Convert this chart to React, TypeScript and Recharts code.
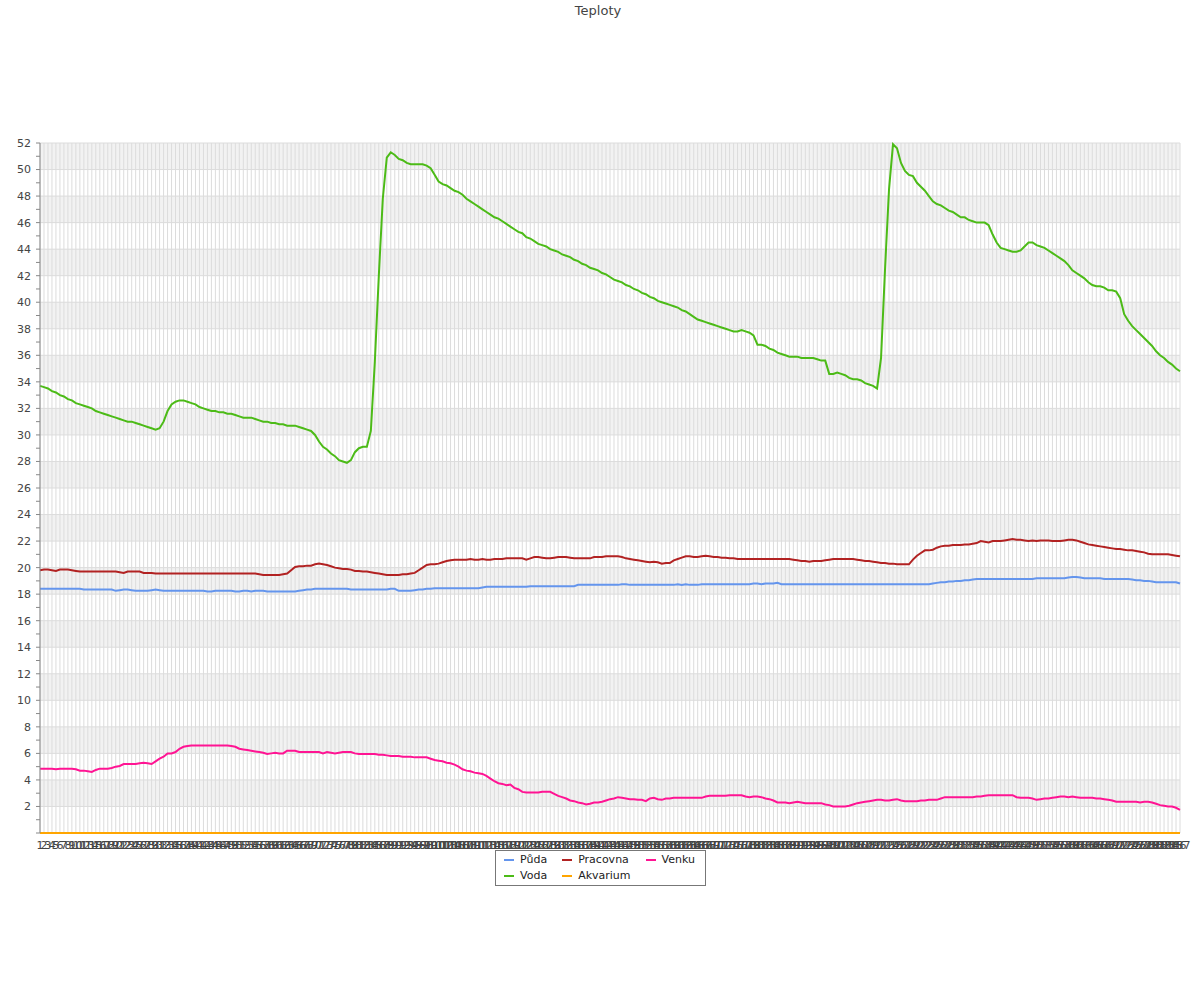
import { CartesianGrid, Legend, Line, LineChart, XAxis, YAxis } from "recharts";

// values, one per sample (287 samples)
const puda = [
  18.4, 18.4, 18.4, 18.4, 18.4, 18.4, 18.4, 18.4, 18.4, 18.4,
  18.4, 18.35, 18.35, 18.35, 18.35, 18.35, 18.35, 18.35, 18.35, 18.25,
  18.3, 18.35, 18.35, 18.3, 18.25, 18.25, 18.25, 18.25, 18.3, 18.35,
  18.3, 18.25, 18.25, 18.25, 18.25, 18.25, 18.25, 18.25, 18.25, 18.25,
  18.25, 18.25, 18.2, 18.2, 18.25, 18.25, 18.25, 18.25, 18.25, 18.2,
  18.2, 18.25, 18.25, 18.2, 18.25, 18.25, 18.25, 18.2, 18.2, 18.2,
  18.2, 18.2, 18.2, 18.2, 18.2, 18.25, 18.3, 18.35, 18.35, 18.4,
  18.4, 18.4, 18.4, 18.4, 18.4, 18.4, 18.4, 18.4, 18.35, 18.35,
  18.35, 18.35, 18.35, 18.35, 18.35, 18.35, 18.35, 18.35, 18.4, 18.4,
  18.25, 18.25, 18.25, 18.25, 18.3, 18.35, 18.35, 18.4, 18.4, 18.45,
  18.45, 18.45, 18.45, 18.45, 18.45, 18.45, 18.45, 18.45, 18.45, 18.45,
  18.45, 18.5, 18.55, 18.55, 18.55, 18.55, 18.55, 18.55, 18.55, 18.55,
  18.55, 18.55, 18.55, 18.6, 18.6, 18.6, 18.6, 18.6, 18.6, 18.6,
  18.6, 18.6, 18.6, 18.6, 18.6, 18.7, 18.7, 18.7, 18.7, 18.7,
  18.7, 18.7, 18.7, 18.7, 18.7, 18.7, 18.75, 18.75, 18.7, 18.7,
  18.7, 18.7, 18.7, 18.7, 18.7, 18.7, 18.7, 18.7, 18.7, 18.7,
  18.75, 18.7, 18.75, 18.7, 18.7, 18.7, 18.75, 18.75, 18.75, 18.75,
  18.75, 18.75, 18.75, 18.75, 18.75, 18.75, 18.75, 18.75, 18.75, 18.8,
  18.8, 18.75, 18.8, 18.8, 18.8, 18.85, 18.75, 18.75, 18.75, 18.75,
  18.75, 18.75, 18.75, 18.75, 18.75, 18.75, 18.75, 18.75, 18.75, 18.75,
  18.75, 18.75, 18.75, 18.75, 18.75, 18.75, 18.75, 18.75, 18.75, 18.75,
  18.75, 18.75, 18.75, 18.75, 18.75, 18.75, 18.75, 18.75, 18.75, 18.75,
  18.75, 18.75, 18.75, 18.75, 18.8, 18.85, 18.9, 18.9, 18.95, 18.95,
  19.0, 19.0, 19.05, 19.05, 19.1, 19.15, 19.15, 19.15, 19.15, 19.15,
  19.15, 19.15, 19.15, 19.15, 19.15, 19.15, 19.15, 19.15, 19.15, 19.15,
  19.2, 19.2, 19.2, 19.2, 19.2, 19.2, 19.2, 19.2, 19.25, 19.3,
  19.3, 19.25, 19.2, 19.2, 19.2, 19.2, 19.2, 19.15, 19.15, 19.15,
  19.15, 19.15, 19.15, 19.15, 19.1, 19.05, 19.05, 19.0, 19.0, 18.95,
  18.9, 18.9, 18.9, 18.9, 18.9, 18.9, 18.8,
];

const voda = [
  33.7, 33.6, 33.5, 33.3, 33.2, 33.0, 32.9, 32.7, 32.6, 32.4,
  32.3, 32.2, 32.1, 32.0, 31.8, 31.7, 31.6, 31.5, 31.4, 31.3,
  31.2, 31.1, 31.0, 31.0, 30.9, 30.8, 30.7, 30.6, 30.5, 30.4,
  30.5, 31.0, 31.8, 32.3, 32.5, 32.6, 32.6, 32.5, 32.4, 32.3,
  32.1, 32.0, 31.9, 31.8, 31.8, 31.7, 31.7, 31.6, 31.6, 31.5,
  31.4, 31.3, 31.3, 31.3, 31.2, 31.1, 31.0, 31.0, 30.9, 30.9,
  30.8, 30.8, 30.7, 30.7, 30.7, 30.6, 30.5, 30.4, 30.3, 30.0,
  29.5, 29.1, 28.9, 28.6, 28.4, 28.1, 28.0, 27.9, 28.1, 28.7,
  29.0, 29.1, 29.1, 30.3, 35.5, 42.0, 47.8, 50.9, 51.3, 51.1,
  50.8, 50.7, 50.5, 50.4, 50.4, 50.4, 50.4, 50.3, 50.1, 49.6,
  49.1, 48.9, 48.8, 48.6, 48.4, 48.3, 48.1, 47.8, 47.6, 47.4,
  47.2, 47.0, 46.8, 46.6, 46.4, 46.3, 46.1, 45.9, 45.7, 45.5,
  45.3, 45.2, 44.9, 44.8, 44.6, 44.4, 44.3, 44.2, 44.0, 43.9,
  43.8, 43.6, 43.5, 43.4, 43.2, 43.1, 42.9, 42.8, 42.6, 42.5,
  42.4, 42.2, 42.1, 41.9, 41.7, 41.6, 41.5, 41.3, 41.2, 41.0,
  40.9, 40.7, 40.6, 40.4, 40.3, 40.1, 40.0, 39.9, 39.8, 39.7,
  39.6, 39.4, 39.3, 39.1, 38.9, 38.7, 38.6, 38.5, 38.4, 38.3,
  38.2, 38.1, 38.0, 37.9, 37.8, 37.8, 37.9, 37.8, 37.7, 37.5,
  36.8, 36.8, 36.7, 36.5, 36.4, 36.2, 36.1, 36.0, 35.9, 35.9,
  35.9, 35.8, 35.8, 35.8, 35.8, 35.7, 35.6, 35.6, 34.6, 34.6,
  34.7, 34.6, 34.5, 34.3, 34.2, 34.2, 34.1, 33.9, 33.8, 33.7,
  33.5, 35.8, 42.5, 48.5, 51.9, 51.6, 50.5, 49.9, 49.6, 49.5,
  49.0, 48.7, 48.4, 48.0, 47.6, 47.4, 47.3, 47.1, 46.9, 46.8,
  46.6, 46.4, 46.4, 46.2, 46.1, 46.0, 46.0, 46.0, 45.8, 45.1,
  44.5, 44.1, 44.0, 43.9, 43.8, 43.8, 43.9, 44.2, 44.5, 44.5,
  44.3, 44.2, 44.1, 43.9, 43.7, 43.5, 43.3, 43.1, 42.8, 42.4,
  42.2, 42.0, 41.8, 41.5, 41.3, 41.2, 41.2, 41.1, 40.9, 40.9,
  40.8, 40.3, 39.1, 38.6, 38.2, 37.9, 37.6, 37.3, 37.0, 36.7,
  36.3, 36.0, 35.8, 35.5, 35.3, 35.0, 34.8,
];

const pracovna = [
  19.8, 19.85, 19.85, 19.8, 19.75, 19.85, 19.85, 19.85, 19.8, 19.75,
  19.7, 19.7, 19.7, 19.7, 19.7, 19.7, 19.7, 19.7, 19.7, 19.7,
  19.65, 19.6, 19.7, 19.7, 19.7, 19.7, 19.6, 19.6, 19.6, 19.55,
  19.55, 19.55, 19.55, 19.55, 19.55, 19.55, 19.55, 19.55, 19.55, 19.55,
  19.55, 19.55, 19.55, 19.55, 19.55, 19.55, 19.55, 19.55, 19.55, 19.55,
  19.55, 19.55, 19.55, 19.55, 19.55, 19.5, 19.45, 19.45, 19.45, 19.45,
  19.45, 19.5, 19.55, 19.8, 20.05, 20.1, 20.1, 20.15, 20.15, 20.25,
  20.3, 20.25, 20.2, 20.1, 20.0, 19.95, 19.9, 19.9, 19.85, 19.75,
  19.75, 19.7, 19.7, 19.65, 19.6, 19.55, 19.5, 19.45, 19.45, 19.45,
  19.45, 19.5, 19.5, 19.55, 19.6, 19.8, 20.0, 20.2, 20.25, 20.25,
  20.3, 20.4, 20.5, 20.55, 20.6, 20.6, 20.6, 20.6, 20.65, 20.6,
  20.6, 20.65, 20.6, 20.6, 20.65, 20.65, 20.65, 20.7, 20.7, 20.7,
  20.7, 20.7, 20.6, 20.7, 20.8, 20.8, 20.75, 20.7, 20.7, 20.75,
  20.8, 20.8, 20.8, 20.75, 20.7, 20.7, 20.7, 20.7, 20.7, 20.8,
  20.8, 20.8, 20.85, 20.85, 20.85, 20.85, 20.8, 20.7, 20.65, 20.6,
  20.55, 20.5, 20.45, 20.4, 20.45, 20.4, 20.3, 20.35, 20.35, 20.55,
  20.65, 20.75, 20.85, 20.85, 20.8, 20.8, 20.85, 20.9, 20.85, 20.8,
  20.8, 20.75, 20.75, 20.7, 20.7, 20.65, 20.65, 20.65, 20.65, 20.65,
  20.65, 20.65, 20.65, 20.65, 20.65, 20.65, 20.65, 20.65, 20.65, 20.6,
  20.55, 20.5, 20.5, 20.45, 20.5, 20.5, 20.5, 20.55, 20.6, 20.65,
  20.65, 20.65, 20.65, 20.65, 20.65, 20.6, 20.55, 20.5, 20.5, 20.45,
  20.4, 20.35, 20.35, 20.3, 20.3, 20.25, 20.25, 20.25, 20.25, 20.6,
  20.9, 21.1, 21.3, 21.3, 21.35, 21.5, 21.6, 21.65, 21.65, 21.7,
  21.7, 21.7, 21.75, 21.75, 21.8, 21.85, 22.0, 21.95, 21.9, 22.0,
  22.0, 22.0, 22.05, 22.1, 22.15, 22.1, 22.1, 22.05, 22.0, 22.05,
  22.0, 22.05, 22.05, 22.05, 22.0, 22.0, 22.0, 22.05, 22.1, 22.1,
  22.05, 21.95, 21.85, 21.75, 21.7, 21.65, 21.6, 21.55, 21.5, 21.45,
  21.4, 21.4, 21.35, 21.3, 21.3, 21.25, 21.2, 21.15, 21.05, 21.0,
  21.0, 21.0, 21.0, 21.0, 20.95, 20.9, 20.85,
];

const akvarium = [
  0, 0, 0, 0, 0, 0, 0, 0, 0, 0, 0, 0, 0, 0, 0, 0, 0, 0, 0, 0,
  0, 0, 0, 0, 0, 0, 0, 0, 0, 0, 0, 0, 0, 0, 0, 0, 0, 0, 0, 0,
  0, 0, 0, 0, 0, 0, 0, 0, 0, 0, 0, 0, 0, 0, 0, 0, 0, 0, 0, 0,
  0, 0, 0, 0, 0, 0, 0, 0, 0, 0, 0, 0, 0, 0, 0, 0, 0, 0, 0, 0,
  0, 0, 0, 0, 0, 0, 0, 0, 0, 0, 0, 0, 0, 0, 0, 0, 0, 0, 0, 0,
  0, 0, 0, 0, 0, 0, 0, 0, 0, 0, 0, 0, 0, 0, 0, 0, 0, 0, 0, 0,
  0, 0, 0, 0, 0, 0, 0, 0, 0, 0, 0, 0, 0, 0, 0, 0, 0, 0, 0, 0,
  0, 0, 0, 0, 0, 0, 0, 0, 0, 0, 0, 0, 0, 0, 0, 0, 0, 0, 0, 0,
  0, 0, 0, 0, 0, 0, 0, 0, 0, 0, 0, 0, 0, 0, 0, 0, 0, 0, 0, 0,
  0, 0, 0, 0, 0, 0, 0, 0, 0, 0, 0, 0, 0, 0, 0, 0, 0, 0, 0, 0,
  0, 0, 0, 0, 0, 0, 0, 0, 0, 0, 0, 0, 0, 0, 0, 0, 0, 0, 0, 0,
  0, 0, 0, 0, 0, 0, 0, 0, 0, 0, 0, 0, 0, 0, 0, 0, 0, 0, 0, 0,
  0, 0, 0, 0, 0, 0, 0, 0, 0, 0, 0, 0, 0, 0, 0, 0, 0, 0, 0, 0,
  0, 0, 0, 0, 0, 0, 0, 0, 0, 0, 0, 0, 0, 0, 0, 0, 0, 0, 0, 0,
  0, 0, 0, 0, 0, 0, 0,
];

const venku = [
  4.85, 4.85, 4.85, 4.85, 4.8, 4.85, 4.85, 4.85, 4.85, 4.8,
  4.7, 4.7, 4.65, 4.6, 4.75, 4.85, 4.85, 4.85, 4.9, 5.0,
  5.05, 5.2, 5.2, 5.2, 5.2, 5.25, 5.3, 5.25, 5.2, 5.4,
  5.6, 5.75, 6.0, 6.0, 6.1, 6.35, 6.5, 6.55, 6.6, 6.6,
  6.6, 6.6, 6.6, 6.6, 6.6, 6.6, 6.6, 6.6, 6.55, 6.5,
  6.35, 6.3, 6.25, 6.2, 6.15, 6.1, 6.05, 5.95, 6.0, 6.05,
  6.0, 6.0, 6.2, 6.2, 6.2, 6.1, 6.1, 6.1, 6.1, 6.1,
  6.1, 6.0, 6.1, 6.05, 6.0, 6.05, 6.1, 6.1, 6.1, 6.0,
  5.95, 5.95, 5.95, 5.95, 5.95, 5.9, 5.9, 5.85, 5.8, 5.8,
  5.8, 5.75, 5.75, 5.75, 5.7, 5.7, 5.7, 5.7, 5.6, 5.5,
  5.45, 5.4, 5.3, 5.25, 5.15, 5.0, 4.8, 4.7, 4.65, 4.55,
  4.5, 4.45, 4.3, 4.1, 3.9, 3.75, 3.7, 3.6, 3.65, 3.4,
  3.3, 3.1, 3.05, 3.05, 3.05, 3.05, 3.1, 3.1, 3.1, 2.95,
  2.8, 2.7, 2.6, 2.45, 2.4, 2.3, 2.25, 2.15, 2.2, 2.3,
  2.3, 2.35, 2.45, 2.55, 2.6, 2.7, 2.65, 2.6, 2.55, 2.55,
  2.5, 2.5, 2.4, 2.6, 2.65, 2.55, 2.5, 2.6, 2.6, 2.65,
  2.65, 2.65, 2.65, 2.65, 2.65, 2.65, 2.65, 2.75, 2.8, 2.8,
  2.8, 2.8, 2.8, 2.85, 2.85, 2.85, 2.85, 2.75, 2.7, 2.75,
  2.75, 2.7, 2.6, 2.55, 2.45, 2.3, 2.3, 2.3, 2.25, 2.3,
  2.35, 2.3, 2.25, 2.25, 2.25, 2.25, 2.25, 2.15, 2.1, 2.0,
  2.0, 2.0, 2.0, 2.05, 2.15, 2.25, 2.3, 2.35, 2.4, 2.45,
  2.5, 2.5, 2.45, 2.45, 2.5, 2.55, 2.45, 2.4, 2.4, 2.4,
  2.4, 2.45, 2.45, 2.5, 2.5, 2.5, 2.6, 2.7, 2.7, 2.7,
  2.7, 2.7, 2.7, 2.7, 2.7, 2.75, 2.75, 2.8, 2.85, 2.85,
  2.85, 2.85, 2.85, 2.85, 2.85, 2.7, 2.65, 2.65, 2.65, 2.6,
  2.5, 2.55, 2.6, 2.6, 2.65, 2.7, 2.75, 2.75, 2.7, 2.75,
  2.7, 2.65, 2.65, 2.65, 2.65, 2.6, 2.6, 2.55, 2.5, 2.45,
  2.35, 2.35, 2.35, 2.35, 2.35, 2.35, 2.3, 2.35, 2.35, 2.3,
  2.2, 2.1, 2.05, 2.0, 2.0, 1.9, 1.75,
];

// samples are labelled 1, 2, 3, ... on the x axis
const labels = voda.map((_, i) => String(i + 1));

const yTicks = [
  0, 1, 2, 3, 4, 5, 6, 7, 8, 9, 10, 11, 12, 13, 14, 15, 16, 17, 18, 19, 20,
  21, 22, 23, 24, 25, 26, 27, 28, 29, 30, 31, 32, 33, 34, 35, 36, 37, 38, 39,
  40, 41, 42, 43, 44, 45, 46, 47, 48, 49, 50, 51, 52,
];
const gridValues = yTicks.filter((v) => v % 2 === 0);

const series = [
  { key: "puda", name: "Půda", color: "#6495ed" },
  { key: "voda", name: "Voda", color: "#4cbb17" },
  { key: "pracovna", name: "Pracovna", color: "#b22222" },
  { key: "akvarium", name: "Akvarium", color: "#ffa500" },
  { key: "venku", name: "Venku", color: "#ff1493" },
];

const rows = labels.map((label, i) => ({
  label,
  puda: puda[i],
  voda: voda[i],
  pracovna: pracovna[i],
  akvarium: akvarium[i],
  venku: venku[i],
}));

function LegendBox() {
  return (
    <div
      style={{
        display: "grid",
        gridTemplateRows: "16px 16px",
        gridAutoFlow: "column",
        columnGap: 15,
        padding: "1px 10px 1px 8px",
        border: "1px solid #777",
        background: "#fff",
        fontSize: 11,
        color: "#222",
      }}
    >
      {series.map((s) => (
        <div key={s.key} style={{ display: "flex", alignItems: "center", lineHeight: "16px" }}>
          <span style={{ display: "inline-block", width: 10, height: 2, background: s.color, marginRight: 6 }} />
          <span>{s.name}</span>
        </div>
      ))}
    </div>
  );
}

export default function App() {
  return (
    <div
      style={{
        position: "absolute",
        left: 0,
        top: 0,
        width: 1200,
        height: 1000,
        background: "#fff",
        fontFamily: "'DejaVu Sans', sans-serif",
      }}
    >
      <div
        style={{
          position: "absolute",
          top: 3,
          left: 0,
          width: 1196,
          textAlign: "center",
          fontSize: 13,
          color: "#444",
        }}
      >
        Teploty
      </div>
      <LineChart width={1200} height={1000} data={rows} margin={{ top: 143, right: 20, left: 0, bottom: 147 }}>
        <CartesianGrid
          horizontalValues={gridValues}
          vertical={false}
          stroke="none"
          horizontalFill={["#f2f2f2", "#ffffff"]}
        />
        <CartesianGrid horizontalValues={gridValues} stroke="#dcdcdc" />
        <XAxis
          dataKey="label"
          interval={0}
          height={20}
          tickSize={0}
          tickMargin={8}
          axisLine={false}
          tick={{ fill: "#444", fontSize: 11 }}
        />
        <YAxis
          domain={[0, 52]}
          ticks={yTicks}
          interval={0}
          width={40}
          tickSize={4}
          tickMargin={5}
          stroke="#888"
          tick={{ fill: "#444", fontSize: 11 }}
          tickFormatter={(v: number) => (v > 0 && v % 2 === 0 ? String(v) : "")}
        />
        <Legend
          layout="horizontal"
          verticalAlign="middle"
          align="center"
          wrapperStyle={{ left: 495, top: 850, width: "auto", height: "auto", bottom: "auto", right: "auto" }}
          content={() => <LegendBox />}
        />
        {series.map((s) => (
          <Line
            key={s.key}
            type="linear"
            dataKey={s.key}
            name={s.name}
            stroke={s.color}
            strokeWidth={2}
            dot={false}
            activeDot={false}
            isAnimationActive={false}
          />
        ))}
      </LineChart>
    </div>
  );
}
